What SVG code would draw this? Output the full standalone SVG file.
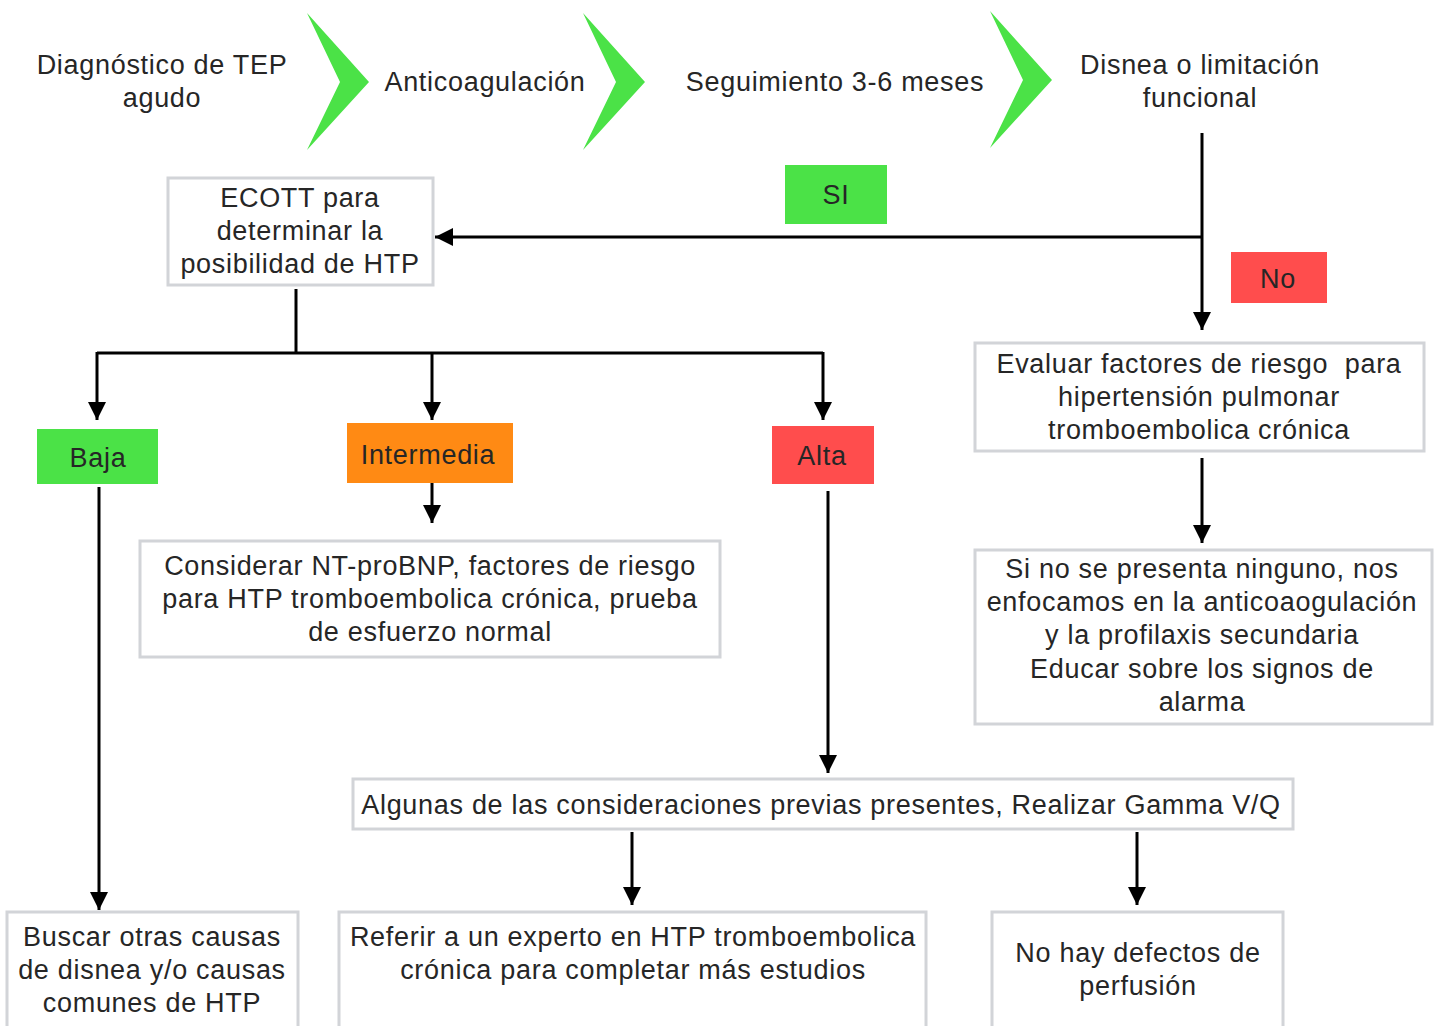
<svg xmlns="http://www.w3.org/2000/svg" width="1440" height="1026" viewBox="0 0 1440 1026">
  <defs>
    <style>
      .t { font-family: "Liberation Sans", Arial, sans-serif; font-size: 27px; letter-spacing: 0.7px; fill: #262626; text-anchor: middle; white-space: pre; }
      .box { fill: #fff; stroke: #d2d4d8; stroke-width: 3; }
      .green { fill: #4be247; }
      .red { fill: #ff4d4d; }
      .orange { fill: #ff8a14; }
      .chev { fill: #4be247; }
      .wire { fill: none; stroke: #000; stroke-width: 3; }
    </style>
    <marker id="arrow" viewBox="0 0 10 10" refX="10" refY="5" markerWidth="6" markerHeight="6" markerUnits="strokeWidth" orient="auto">
      <path d="M0,0 L10,5 L0,10 Z" fill="#000"/>
    </marker>
  </defs>
  <rect width="1440" height="1026" fill="#fff"/>

  <!-- top timeline -->
  <g id="step-diagnostico">
    <text class="t" x="162" y="74">Diagnóstico de TEP</text>
    <text class="t" x="162" y="107">agudo</text>
  </g>
  <g id="chevron-1"><polygon class="chev" points="307,13 369,82 307,150 340,82"/></g>
  <g id="step-anticoagulacion">
    <text class="t" x="485" y="91">Anticoagulación</text>
  </g>
  <g id="chevron-2"><polygon class="chev" points="583,13 645,82 583,150 616,82"/></g>
  <g id="step-seguimiento">
    <text class="t" x="835" y="91">Seguimiento 3-6 meses</text>
  </g>
  <g id="chevron-3"><polygon class="chev" points="990,11 1052,80 990,148 1023,80"/></g>
  <g id="step-disnea">
    <text class="t" x="1200" y="74">Disnea o limitación</text>
    <text class="t" x="1200" y="107">funcional</text>
  </g>

  <!-- connectors -->
  <g id="connectors">
    <path class="wire" d="M1202,133 V330" marker-end="url(#arrow)"/>
    <path class="wire" d="M1202,237 H435" marker-end="url(#arrow)"/>
    <path class="wire" d="M296,289 V353"/>
    <path class="wire" d="M97,353 H823"/>
    <path class="wire" d="M97,352 V420" marker-end="url(#arrow)"/>
    <path class="wire" d="M432,353 V420" marker-end="url(#arrow)"/>
    <path class="wire" d="M823,352 V420" marker-end="url(#arrow)"/>
    <path class="wire" d="M432,483 V523" marker-end="url(#arrow)"/>
    <path class="wire" d="M99,487 V910" marker-end="url(#arrow)"/>
    <path class="wire" d="M828,491 V773" marker-end="url(#arrow)"/>
    <path class="wire" d="M1202,458 V543" marker-end="url(#arrow)"/>
    <path class="wire" d="M632,832 V905" marker-end="url(#arrow)"/>
    <path class="wire" d="M1137,832 V905" marker-end="url(#arrow)"/>
  </g>

  <!-- decision labels -->
  <g id="label-si">
    <rect class="green" x="785" y="165" width="102" height="59"/>
    <text class="t" x="836" y="204">SI</text>
  </g>
  <g id="label-no">
    <rect class="red" x="1231" y="252" width="96" height="51"/>
    <text class="t" x="1278" y="288">No</text>
  </g>

  <g id="ecott">
    <rect class="box" x="168" y="178" width="265" height="107"/>
    <text class="t" x="300" y="207">ECOTT para</text>
    <text class="t" x="300" y="240">determinar la</text>
    <text class="t" x="300" y="273">posibilidad de HTP</text>
  </g>

  <g id="evaluar">
    <rect class="box" x="975" y="343" width="449" height="108"/>
    <text class="t" x="1199" y="373">Evaluar factores de riesgo  para</text>
    <text class="t" x="1199" y="406">hipertensión pulmonar</text>
    <text class="t" x="1199" y="439">tromboembolica crónica</text>
  </g>

  <g id="baja">
    <rect class="green" x="37" y="429" width="121" height="55"/>
    <text class="t" x="98" y="467">Baja</text>
  </g>
  <g id="intermedia">
    <rect class="orange" x="347" y="423" width="166" height="60"/>
    <text class="t" x="428" y="464">Intermedia</text>
  </g>
  <g id="alta">
    <rect class="red" x="772" y="426" width="102" height="58"/>
    <text class="t" x="822" y="465">Alta</text>
  </g>

  <g id="considerar">
    <rect class="box" x="140" y="541" width="580" height="116"/>
    <text class="t" x="430" y="575">Considerar NT-proBNP, factores de riesgo</text>
    <text class="t" x="430" y="608">para HTP tromboembolica crónica, prueba</text>
    <text class="t" x="430" y="641">de esfuerzo normal</text>
  </g>

  <g id="sin-factores">
    <rect class="box" x="975" y="550" width="457" height="174"/>
    <text class="t" x="1202" y="578">Si no se presenta ninguno, nos</text>
    <text class="t" x="1202" y="611">enfocamos en la anticoaogulación</text>
    <text class="t" x="1202" y="644">y la profilaxis secundaria</text>
    <text class="t" x="1202" y="678">Educar sobre los signos de</text>
    <text class="t" x="1202" y="711">alarma</text>
  </g>

  <g id="gamma">
    <rect class="box" x="353" y="779" width="940" height="50"/>
    <text class="t" x="821" y="814">Algunas de las consideraciones previas presentes, Realizar Gamma V/Q</text>
  </g>

  <g id="buscar">
    <rect class="box" x="7" y="912" width="291" height="120"/>
    <text class="t" x="152" y="946">Buscar otras causas</text>
    <text class="t" x="152" y="979">de disnea y/o causas</text>
    <text class="t" x="152" y="1012">comunes de HTP</text>
  </g>

  <g id="referir">
    <rect class="box" x="339" y="912" width="587" height="120"/>
    <text class="t" x="633" y="946">Referir a un experto en HTP tromboembolica</text>
    <text class="t" x="633" y="979">crónica para completar más estudios</text>
  </g>

  <g id="sin-defectos">
    <rect class="box" x="992" y="912" width="291" height="120"/>
    <text class="t" x="1138" y="962">No hay defectos de</text>
    <text class="t" x="1138" y="995">perfusión</text>
  </g>
</svg>
